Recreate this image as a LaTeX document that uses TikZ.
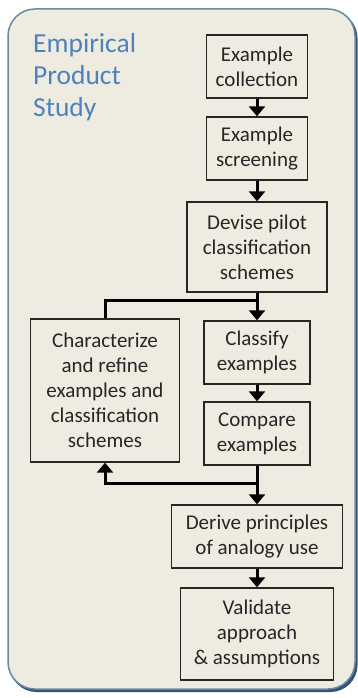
\documentclass[tikz,border=0pt]{standalone}
\usepackage{fontspec}
\setmainfont{Carlito}
\usepackage{tikz}
\usetikzlibrary{arrows.meta,calc,positioning}
\definecolor{panelfill}{HTML}{EEECE1}
\definecolor{paneledge}{HTML}{6A89A8}
\definecolor{panelshade}{HTML}{34536F}
\definecolor{titleblue}{HTML}{4F81BD}
\tikzset{%
	process/.style = {draw=black!85, line width=1.4pt, rectangle, inner sep=0pt, align=center, text=black!85, font=\fontsize{21}{25}\selectfont},
	arrow/.style   = {line width=3pt, -{Triangle[width=16pt,length=10pt]}},
	link/.style    = {line width=3pt},
}
\begin{document}
\begin{tikzpicture}[x=1pt,y=-1pt]
	\useasboundingbox (0,0) rectangle (358,698);
	\fill[panelshade,rounded corners=27pt] (9.5,11) rectangle (357.5,692); % shadow
	\draw[paneledge,fill=panelfill,line width=1.5pt,rounded corners=27pt] (8,9) rectangle (355,689); % panel
	\node[anchor=north west,inner sep=0pt,align=left,text=titleblue,font=\fontsize{27.5}{32}\selectfont] (title) at (33,33) {Empirical\\Product\\Study};
	\node[process, minimum width=101pt, minimum height=63pt] (collect) at (257,66.5) {Example\\collection};
	\node[process, minimum width=101pt, minimum height=63pt] (screen) at (257,148.5) {Example\\screening};
	\node[process, minimum width=140pt, minimum height=90pt] (devise) at (257,247) {Devise pilot\\classification\\schemes};
	\node[process, minimum width=106pt, minimum height=63pt] (classify) at (257,352.5) {Classify\\examples};
	\node[process, minimum width=106pt, minimum height=63pt] (compare) at (257,433.5) {Compare\\examples};
	\node[process, minimum width=149pt, minimum height=143pt] (refine) at (105,390.5) {Characterize\\and refine\\examples and\\classification\\schemes};
	\node[process, minimum width=171pt, minimum height=63pt] (derive) at (257,536.5) {Derive principles\\of analogy use};
	\node[process, minimum width=153pt, minimum height=92pt] (validate) at (257,634) {Validate\\approach\\\& assumptions};
	\coordinate (split) at (257,300);
	\coordinate (merge) at (257,483);
	\draw[arrow] (collect) -- (screen);
	\draw[arrow] (screen) -- (devise);
	\draw[link] (devise) -- (split);
	\draw[link] (split) -| (refine.north);
	\draw[arrow] (split) -- (classify);
	\draw[arrow] (classify) -- (compare);
	\draw[link] (compare) -- (merge);
	\draw[arrow] (merge) -| (refine.south);
	\draw[arrow] (merge) -- (derive);
	\draw[arrow] (derive) -- (validate);
\end{tikzpicture}
\end{document}
